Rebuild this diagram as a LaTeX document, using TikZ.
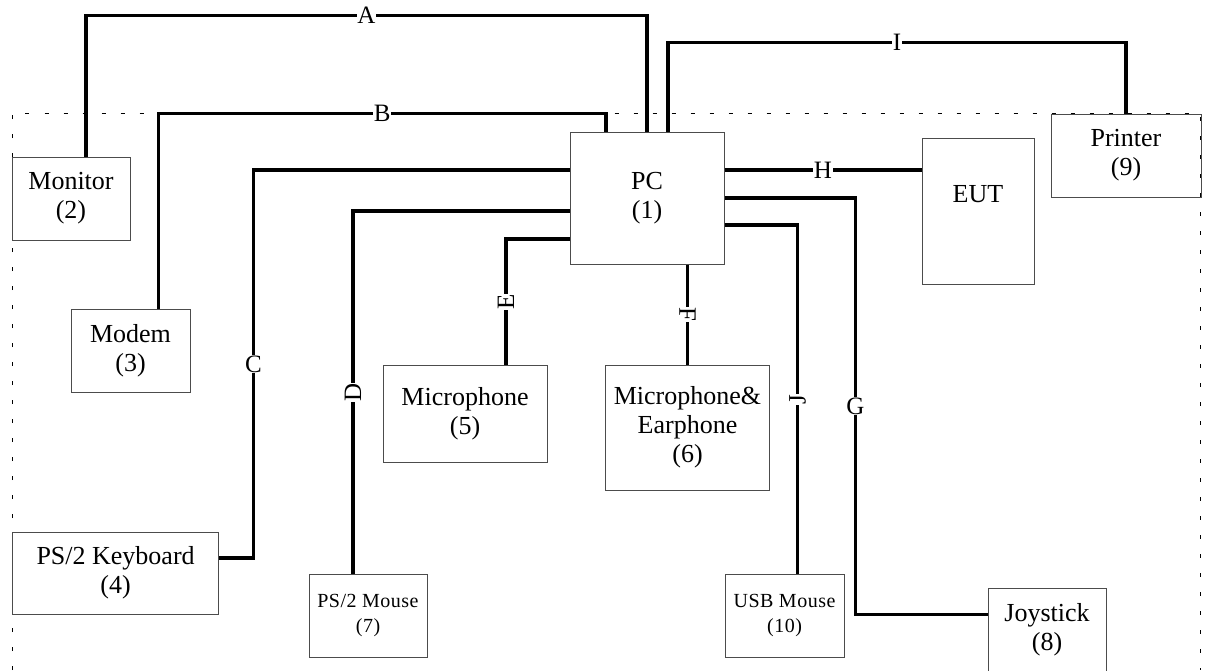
\documentclass[tikz,border=0pt]{standalone}
\usepackage{fontspec}
\setmainfont{Liberation Serif}
\newfontfamily\spacedfont[LetterSpace=2.5]{Liberation Serif}
\usetikzlibrary{calc}
\tikzset{
  unit/.style={rectangle,draw=black!70,line width=1pt,align=center,inner sep=0pt,font=\fontsize{26}{29}\selectfont},
  smallunit/.style={unit,font=\spacedfont\fontsize{20}{25}\selectfont},
  cable/.style={line width=3.2pt},
  tag/.style={fill=white,inner sep=0.5pt,font=\fontsize{25}{25}\selectfont},
  zone/.style={dash pattern=on 4pt off 15pt,line width=0.8pt}
}

\begin{document}
\begin{tikzpicture}[x=1pt,y=-1pt]
  \clip (0,0) rectangle (1208,670);
  % test area
  \draw[zone] (12,670) -- (12,113.5) -- (1200,113.5) -- (1200,670);

  \node[unit,minimum width=154pt,minimum height=132pt] (pc) at (647,198) {PC\\(1)};
  \node[unit,minimum width=118pt,minimum height=83pt] (mon) at (71,198.5) {Monitor\\(2)};
  \node[unit,minimum width=119pt,minimum height=83pt] (mod) at (130.5,350.5) {Modem\\(3)};
  \node[unit,minimum width=206pt,minimum height=82pt] (kbd) at (115.6,573) {PS/2 Keyboard\\(4)};
  \node[unit,minimum width=164pt,minimum height=97pt] (mic) at (465,413.5) {Microphone\\(5)};
  \node[unit,minimum width=164pt,minimum height=125pt] (mae) at (687.5,427.5) {Microphone\&\\Earphone\\(6)};
  \node[smallunit,minimum width=118pt,minimum height=83pt] (ms2) at (368,615.5) {PS/2 Mouse\\(7)};
  \node[unit,minimum width=118pt,minimum height=83pt] (joy) at (1047,629.5) {Joystick\\(8)};
  \node[unit,minimum width=150pt,minimum height=83pt] (prn) at (1126,155.5) {Printer\\(9)};
  \node[smallunit,minimum width=119pt,minimum height=83pt] (usb) at (784.5,615.5) {USB Mouse\\(10)};
  \node[unit,minimum width=112pt,minimum height=146pt] (eut) at (978,211) {EUT\\\phantom{(}};

  \draw[cable] ([xshift=15pt]mon.north) |- node[tag,pos=0.75]{A} ($(pc.north)+(0,-116)$) -- (pc.north);
  \draw[cable] ([xshift=28pt]mod.north) |- node[tag,pos=0.75]{B} ($(pc.north)+(-41,-18)$) -- ++(0,18);
  \draw[cable] ([xshift=21pt]pc.north) -- ++(0,-89) -| node[tag,pos=0.25]{I} (prn.north);
  \draw[cable] ([yshift=28pt]pc.west) -| node[tag,pos=0.75]{C} ($(kbd.east)+(34.4,-15)$) -- ([yshift=15pt]kbd.east);
  \draw[cable] ([yshift=-13pt]pc.west) -| node[tag,rotate=90,pos=0.75]{D} ([xshift=-15pt]ms2.north);
  \draw[cable] ([yshift=-41pt]pc.west) -| node[tag,rotate=90,pos=0.75]{E} ([xshift=41pt]mic.north);
  \draw[cable] (pc.south -| mae.north) -- node[tag,rotate=-90]{F} (mae.north);
  \draw[cable] (pc.east) -| node[tag,pos=0.75]{G} ($(joy.west)+(-132,-15)$) -- ([yshift=15pt]joy.west);
  \draw[cable] ([yshift=28pt]pc.east) -- node[tag]{H} ([yshift=41pt]eut.west);
  \draw[cable] ([yshift=-27pt]pc.east) -| node[tag,rotate=90,pos=0.75]{J} ([xshift=13pt]usb.north);
\end{tikzpicture}
\end{document}
